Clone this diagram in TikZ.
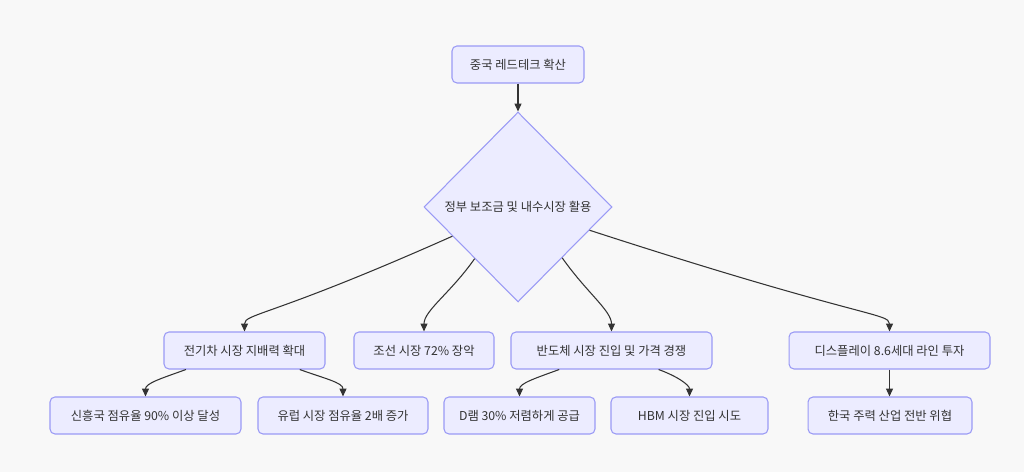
\documentclass[tikz,border=0pt]{standalone}
\usepackage{fontspec}
\newfontfamily\kr{Noto Sans CJK KR}
\usetikzlibrary{arrows.meta,shapes.geometric}
\definecolor{boxfill}{HTML}{ECECFF}
\definecolor{boxline}{HTML}{9A9AF5}
\definecolor{edgecol}{HTML}{333333}
\definecolor{bgcol}{HTML}{F8F8F8}

\begin{document}
\begin{tikzpicture}[x=0.02cm,y=0.02cm,
  box/.style={draw=boxline,fill=boxfill,line width=0.6pt,rounded corners=2.8pt,
    minimum height=0.74cm,inner sep=0pt,text=edgecol,font=\kr\fontsize{7}{8}\selectfont},
  choice/.style={diamond,draw=boxline,fill=boxfill,line width=0.6pt,inner sep=0pt,
    minimum width=3.76cm,minimum height=3.8cm,text=edgecol,font=\kr\fontsize{7}{8}\selectfont},
  link/.style={draw=edgecol,line width=0.6pt,-{Triangle[length=4.5pt,width=4pt]}}]
\fill[bgcol] (0,0) rectangle (1024,472);
\useasboundingbox (0,0) rectangle (1024,472);
% top
\node[box,minimum width=2.64cm] (red) at (518,407.5) {중국 레드테크 확산};
\node[choice] (gov) at (518,265) {\makebox[0pt]{정부 보조금 및 내수시장 활용}};
% middle row
\node[box,minimum width=3.22cm] (ev)   at (244.5,121.5) {전기차 시장 지배력 확대};
\node[box,minimum width=2.80cm] (ship) at (424,121.5)   {조선 시장 72\% 장악};
\node[box,minimum width=4.02cm] (semi) at (611.5,121.5) {반도체 시장 진입 및 가격 경쟁};
\node[box,minimum width=4.02cm] (disp) at (889.5,121.5) {디스플레이 8.6세대 라인 투자};
% bottom row
\node[box,minimum width=3.82cm] (emerg) at (145.5,56.5) {신흥국 점유율 90\% 이상 달성};
\node[box,minimum width=3.40cm] (eu)    at (343,56.5)   {유럽 시장 점유율 2배 증가};
\node[box,minimum width=3.02cm] (dram)  at (519.5,56.5) {D램 30\% 저렴하게 공급};
\node[box,minimum width=3.14cm] (hbm)   at (689.5,56.5) {HBM 시장 진입 시도};
\node[box,minimum width=3.28cm] (kor)   at (890,56.5)   {한국 주력 산업 전반 위협};

\draw[link] (red) -- (gov);
\draw[link] (gov.204) to[out=204,in=90,out looseness=2.2,in looseness=0.2] (ev.north);
\draw[link] (gov.230) to[out=235,in=90,out looseness=1.2,in looseness=0.6] (ship.north);
\draw[link] (gov.311) to[out=-55,in=90,out looseness=1.2,in looseness=0.6] (semi.north);
\draw[link] (gov.342) to[out=-18,in=90,out looseness=2.3,in looseness=0.15] (disp.north);
\draw[link] (ev.198.7) to[out=200,in=90,out looseness=1.3,in looseness=0.7] (emerg.north);
\draw[link] (ev.341.6) to[out=-20,in=90,out looseness=1.3,in looseness=0.7] (eu.north);
\draw[link] (semi.200.9) to[out=200,in=90,out looseness=1.3,in looseness=0.7] (dram.north);
\draw[link] (semi.338.3) to[out=-20,in=90,out looseness=1.3,in looseness=0.7] (hbm.north);
\draw[link] (disp.south) -- (disp.south |- kor.north);
\end{tikzpicture}
\end{document}
